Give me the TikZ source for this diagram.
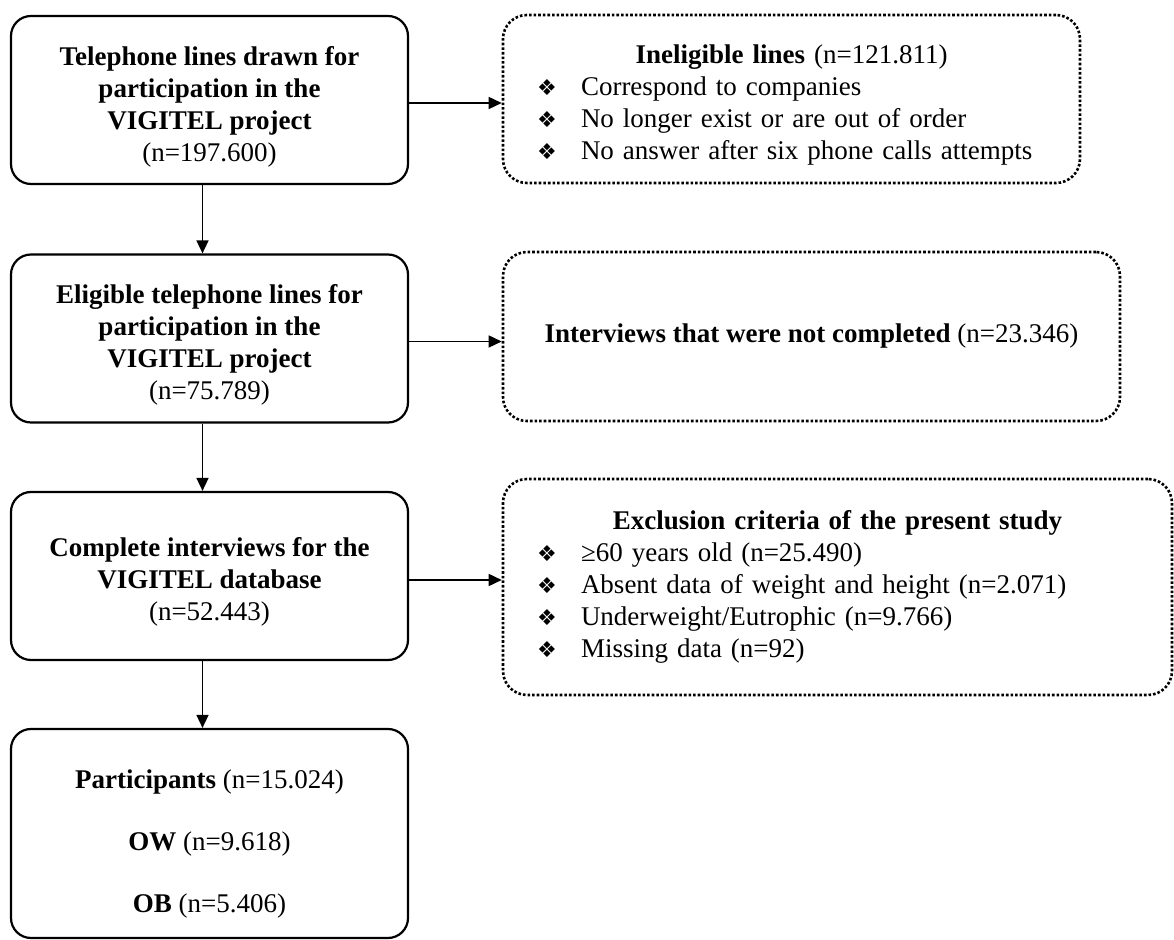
\documentclass[tikz,border=0pt]{standalone}
\usepackage{fontspec}
\setmainfont{Liberation Serif}
\newfontfamily\bulletfont{DejaVu Sans}
\usetikzlibrary{arrows.meta}
\newcommand{\crit}[1]{\makebox[22pt][l]{\bulletfont\fontsize{11}{16}\selectfont ❖}#1}
\newcommand{\topgap}[1]{\rule{0pt}{#1}}

\begin{document}
\begin{tikzpicture}[x=0.5pt,y=-0.5pt,
    every node/.style={font=\fontsize{13.5}{16}\selectfont},
    stepbox/.style={draw,line width=1.1pt,rounded corners=10pt,minimum width=198.5pt,minimum height=84pt,align=center,inner sep=2pt},
    outbox/.style={draw,densely dotted,line width=1.3pt,rounded corners=12pt,inner xsep=17pt,inner ysep=4pt,align=left},
    flow/.style={-{Triangle[length=6.5pt,width=6pt]},line width=0.8pt}]
    \useasboundingbox (0,0) rectangle (1174,940);
    % main flow
    \node[stepbox] (tel) at (209.5,100) {\topgap{16pt}\textbf{Telephone lines drawn for}\\\textbf{participation in the}\\\textbf{VIGITEL project}\\(n=197.600)};
    \node[stepbox] (elig) at (209.5,338.5) {\topgap{16pt}\textbf{Eligible telephone lines for}\\\textbf{participation in the}\\\textbf{VIGITEL project}\\(n=75.789)};
    \node[stepbox] (compl) at (209.5,576) {\topgap{15pt}\textbf{Complete interviews for the}\\\textbf{VIGITEL database}\\(n=52.443)};
    \node[stepbox,minimum height=104.5pt] (part) at (209.5,833.5) {\topgap{20pt}\textbf{Participants} (n=15.024)\\[15pt]\textbf{OW} (n=9.618)\\[15pt]\textbf{OB} (n=5.406)};
    % losses
    \node[outbox,text width=254.5pt,minimum height=84pt] (inel) at (791.5,99) {\centering\topgap{15pt}\textbf{Ineligible lines} (n=121.811)\par\raggedright
        \crit{Correspond to companies}\\\crit{No longer exist or are out of order}\\\crit{No answer after six phone calls attempts}};
    \node[outbox,align=center,minimum width=308.5pt,minimum height=84.5pt] (notc) at (811.5,336.5) {\textbf{Interviews that were not completed} (n=23.346)};
    \node[outbox,text width=300.5pt,minimum height=108pt] (excl) at (837.5,587) {\centering\textbf{Exclusion criteria of the present study}\par\raggedright
        \crit{≥60 years old (n=25.490)}\\\crit{Absent data of weight and height (n=2.071)}\\\crit{Underweight/Eutrophic (n=9.766)}\\\crit{Missing data (n=92)}};
    % arrows
    \draw[flow] ([xshift=-3.5pt]tel.south) -- ([xshift=-3.5pt]elig.north);
    \draw[flow] ([xshift=-3.5pt]elig.south) -- ([xshift=-3.5pt]compl.north);
    \draw[flow] ([xshift=-3.5pt]compl.south) -- ([xshift=-3.5pt]part.north);
    \draw[flow] ([yshift=-1.5pt]tel.east) -- ([yshift=-1.5pt]tel.east -| inel.west);
    \draw[flow] ([yshift=-1.5pt]elig.east) -- ([yshift=-1.5pt]elig.east -| notc.west);
    \draw[flow] ([yshift=-2pt]compl.east) -- ([yshift=-2pt]compl.east -| excl.west);
\end{tikzpicture}
\end{document}
